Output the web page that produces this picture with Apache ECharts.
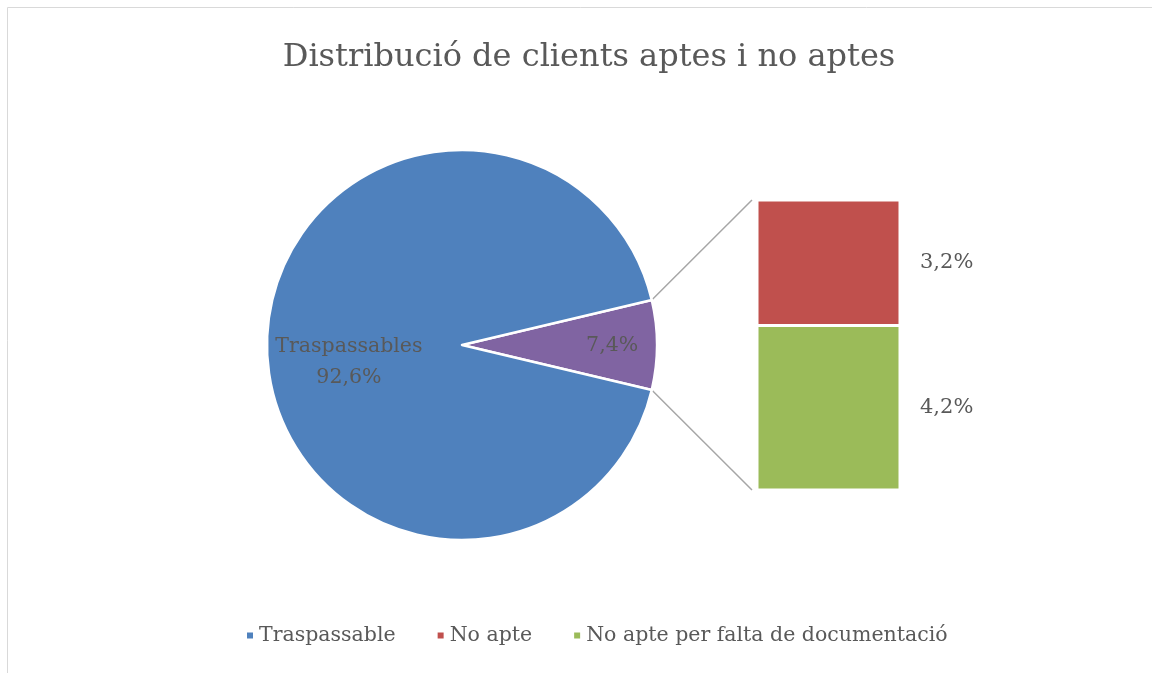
<!DOCTYPE html>
<html lang="ca">
<head>
<meta charset="UTF-8">
<title>Distribució de clients aptes i no aptes</title>
<script src="https://cdn.jsdelivr.net/npm/echarts@6/dist/echarts.min.js"></script>
<style>
    html, body { margin: 0; padding: 0; background: #fff; }
    #myChart { width: 1152px; height: 673px; }
</style>
</head>
<body>
<div id="myChart"></div>
<script>
    // dades
    const titleText = 'Distribució de clients aptes i no aptes';
    const pieNames = ['No aptes', 'Traspassable'];
    const pieValues = [7.4, 92.6];
    const pieLabels = ['7,4%', 'Traspassables\n92,6%'];
    const barNames = ['No apte per falta de documentació', 'No apte']; // de baix a dalt
    const barValues = [4.2, 3.2];
    const barLabels = ['4,2%', '3,2%'];
    const legendNames = ['Traspassable', 'No apte', 'No apte per falta de documentació'];

    const pieColors = ['#8064A2', '#4F81BD'];
    const barColors = ['#9BBB59', '#C0504D'];
    const font = 'DejaVu Serif';
    const txt = '#595959';

    const pieCenter = [462, 345];
    const pieRadius = 195;
    const labelRadius = [0.77, 0.58];   // fracció del radi on va cada etiqueta
    const labelDy = [1, 17];
    const total = pieValues.reduce((a, b) => a + b, 0);
    const halfAngle = pieValues[0] / total * 180;   // el tall petit centrat a la dreta
    const barSum = barValues.reduce((a, b) => a + b, 0);
    const grid = {left: 757, top: 200, width: 143, height: 290};

    // angle central de cada tall (graus, antihorari des de l'eix x)
    let midAngles = [];
    let acc = halfAngle;
    pieValues.forEach((v) => {
        let span = v / total * 360;
        midAngles.push(acc - span / 2);
        acc -= span;
    });

    let chart = echarts.init(document.getElementById('myChart'));
    chart.setOption({
        animation: false,
        title: {
            text: titleText,
            left: 584,
            textAlign: 'center',
            top: 37,
            textStyle: {fontFamily: font, fontSize: 32, fontWeight: 'normal', color: txt}
        },
        legend: {
            data: legendNames,
            left: 240,
            top: 620,
            icon: 'rect',
            itemWidth: 8,
            itemHeight: 8,
            itemGap: 40,
            textStyle: {fontFamily: font, fontSize: 20.5, color: txt}
        },
        grid: grid,
        xAxis: {type: 'category', data: ['x'], show: false},
        yAxis: {type: 'value', min: 0, max: barSum, show: false},
        series: [
            {
                type: 'pie',
                center: pieCenter,
                radius: pieRadius,
                startAngle: halfAngle,
                clockwise: true,
                emphasis: {scale: false},
                itemStyle: {borderColor: '#fff', borderWidth: 2.5},
                label: {
                    position: 'inside',
                    fontFamily: font,
                    fontSize: 20.5,
                    color: txt,
                    lineHeight: 31,
                    formatter: (p) => pieLabels[p.dataIndex]
                },
                labelLayout: (p) => {
                    let a = midAngles[p.dataIndex] * Math.PI / 180;
                    let r = pieRadius * labelRadius[p.dataIndex];
                    return {
                        x: pieCenter[0] + r * Math.cos(a),
                        y: pieCenter[1] - r * Math.sin(a) + labelDy[p.dataIndex],
                        align: 'center',
                        verticalAlign: 'middle'
                    };
                },
                data: pieNames.map((n, i) => ({name: n, value: pieValues[i], itemStyle: {color: pieColors[i]}}))
            }
        ].concat(barNames.map((n, i) => ({
            type: 'bar',
            name: n,
            stack: 'rest',
            barWidth: '100%',
            color: barColors[i],
            itemStyle: {borderColor: '#fff', borderWidth: 1.5},
            label: {
                show: true,
                position: 'right',
                distance: 20,
                fontFamily: font,
                fontSize: 21,
                color: txt,
                formatter: () => barLabels[i]
            },
            data: [barValues[i]]
        })))
    });

    // línies de connexió entre el tall i la barra
    const rad = halfAngle * Math.PI / 180;
    const edgeTop = [pieCenter[0] + pieRadius * Math.cos(rad), pieCenter[1] - pieRadius * Math.sin(rad)];
    const edgeBot = [pieCenter[0] + pieRadius * Math.cos(rad), pieCenter[1] + pieRadius * Math.sin(rad)];
    const barTop = chart.convertToPixel({yAxisIndex: 0}, barSum);
    const barBot = chart.convertToPixel({yAxisIndex: 0}, 0);
    const barX = grid.left - 5;
    chart.setOption({
        graphic: [
            {type: 'rect', shape: {x: 7.5, y: 7.5, width: 1160, height: 700},
             style: {fill: 'none', stroke: '#d9d9d9', lineWidth: 1}, silent: true},
            {type: 'line', shape: {x1: edgeTop[0], y1: edgeTop[1], x2: barX, y2: barTop},
             style: {stroke: '#a6a6a6', lineWidth: 1.5}, silent: true},
            {type: 'line', shape: {x1: edgeBot[0], y1: edgeBot[1], x2: barX, y2: barBot},
             style: {stroke: '#a6a6a6', lineWidth: 1.5}, silent: true}
        ]
    });
</script>
</body>
</html>
